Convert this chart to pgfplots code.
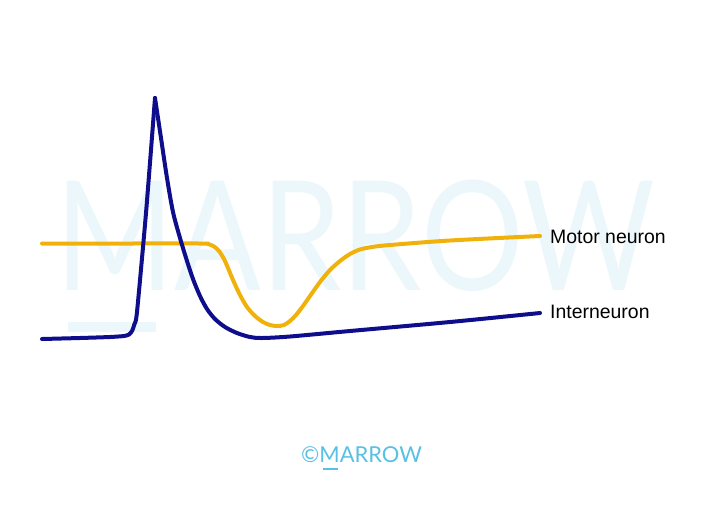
\documentclass[border=0pt]{standalone}
\usepackage{pgfplots}
\pgfplotsset{compat=1.18}
\usepackage{fontspec}
\setmainfont{Liberation Sans}
\newfontfamily\logofont{Lato}
\definecolor{navy}{RGB}{14,14,140}
\definecolor{gold}{RGB}{240,178,10}
\definecolor{wm}{RGB}{236,247,252}
\definecolor{logo}{RGB}{88,192,228}
\begin{document}
\begin{tikzpicture}
\begin{axis}[
  width=720bp, height=512bp, scale only axis,
  xmin=0, xmax=720, ymin=0, ymax=512, y dir=reverse,
  hide axis, clip=false]
\path[draw=none] (axis cs:0,0) rectangle (axis cs:720,512);
% watermark
\node[anchor=south west, inner sep=0pt, text=wm, xscale=0.815, yscale=0.97, font={\logofont\fontsize{158}{160}\selectfont}] at (axis cs:55,292) {MARROW};
\fill[wm] (axis cs:68,322) rectangle (axis cs:156,332);
% motor neuron
\addplot[gold, line width=4bp, smooth, tension=0.5, line cap=round] coordinates {
(42,243.5)(120,243.5)(200,243.5)(208,244)(214,246.5)(219,251)(224,259)(228,268)(233,280)(240,295)(247,307)(255,316)(263,322)(270,325)(277,326)(284,325)(290,321)(296,315)(303,306)(310,296)(320,282)(330,270)(340,261)(350,254)(360,249.5)(372,247)(390,245)(450,240.5)(540,236)};
% interneuron
\addplot[navy, line width=4bp, smooth, tension=0.4, line cap=round] coordinates {
(42,339)(80,338)(110,337)(124,336)(129,334.5)(132,331)(134.5,324)(137,312)(146,213)(155,98)};
\addplot[navy, line width=4bp, smooth, tension=0.5, line cap=round] coordinates {
(155,98)(161,138)(167,178)(173,212)(180,238)(187,261)(193,279)(200,296)(207,309)(215,319)(225,327)(237,333)(250,337)(262,338)(290,336.5)(350,331)(450,322)(540,313)};
% labels
\node[anchor=west, inner sep=0pt, font=\fontsize{19.5}{22}\selectfont] at (axis cs:550,237) {Motor neuron};
\node[anchor=west, inner sep=0pt, font=\fontsize{19.5}{22}\selectfont] at (axis cs:550,312) {Interneuron};
% bottom logo
\node[anchor=base west, inner sep=0pt, text=logo, font={\logofont\fontsize{22}{24}\selectfont}] at (axis cs:301,462) {\textcopyright MARROW};
\fill[logo] (axis cs:323,467.5) rectangle (axis cs:338,469.5);
\end{axis}
\end{tikzpicture}
\end{document}
